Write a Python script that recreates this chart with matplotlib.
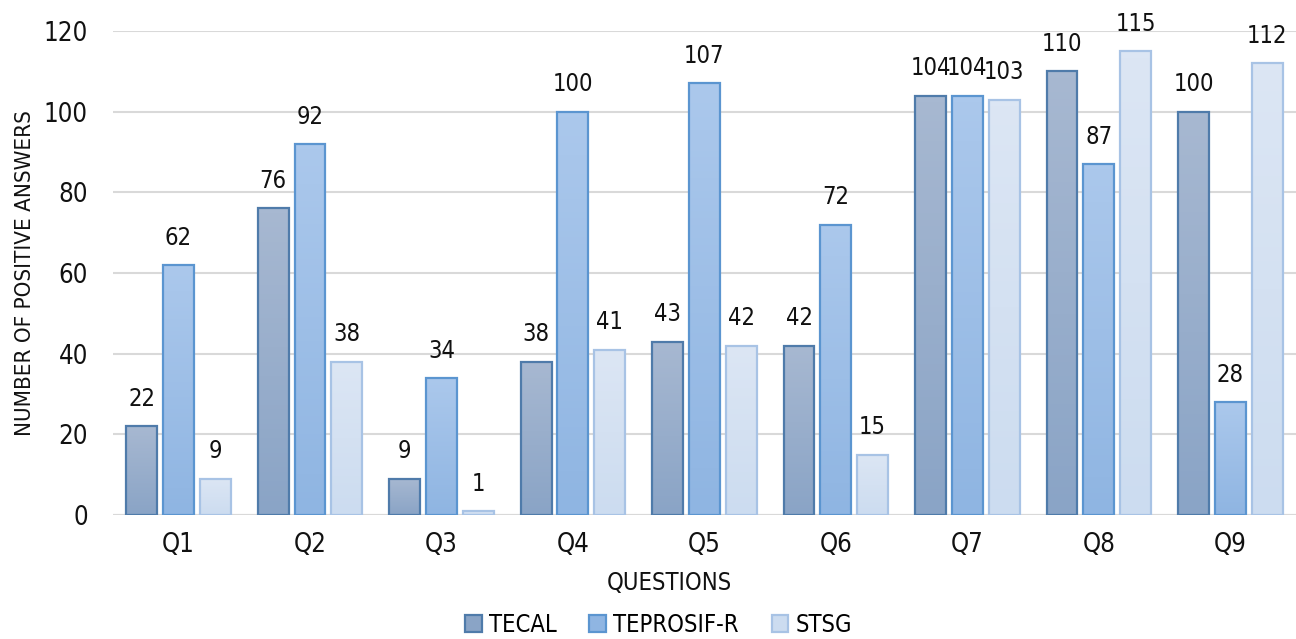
import numpy as np
import matplotlib.pyplot as plt
from matplotlib.patches import Patch
from matplotlib.colors import LinearSegmentedColormap

plt.rcParams['font.family'] = ['DejaVu Sans']
plt.rcParams['font.stretch'] = 'condensed'

questions = ['Q1', 'Q2', 'Q3', 'Q4', 'Q5', 'Q6', 'Q7', 'Q8', 'Q9']
tecal = [22, 76, 9, 38, 43, 42, 104, 110, 100]
teprosif = [62, 92, 34, 100, 107, 72, 104, 87, 28]
stsg = [9, 38, 1, 41, 42, 15, 103, 115, 112]

series = [
    ('TECAL', tecal, '#A7B8D1', '#8AA4C6', '#4F7BAA'),
    ('TEPROSIF-R', teprosif, '#ABC8EC', '#8FB5E2', '#5B95D0'),
    ('STSG', stsg, '#DCE6F4', '#CCDCF0', '#A8C3E5'),
]

fig = plt.figure(figsize=(12.96, 6.39), dpi=100)
ax = fig.add_axes([0.087, 0.194, 0.913, 0.7575])

x = np.arange(len(questions))
width = 0.235
pitch = 0.28

for i, (name, vals, top_c, bot_c, edge_c) in enumerate(series):
    # vertical gradient fill, clipped to each bar
    cmap = LinearSegmentedColormap.from_list(name, [bot_c, top_c])
    grad = np.linspace(0, 1, 64).reshape(-1, 1)
    bars = ax.bar(x + (i - 1) * pitch, vals, width, facecolor='none',
                  edgecolor=edge_c, linewidth=1.6, zorder=3)
    for b, v in zip(bars, vals):
        x0, y0 = b.get_x(), b.get_y()
        im = ax.imshow(grad, cmap=cmap, origin='lower', aspect='auto',
                       extent=(x0, x0 + b.get_width(), y0, y0 + b.get_height()),
                       zorder=2)
        im.set_clip_path(b)
        ax.annotate(str(v), (b.get_x() + b.get_width() / 2, v),
                    xytext=(0, 11), textcoords='offset points',
                    ha='center', va='bottom', fontsize=17, color='#111111')

ax.set_xlim(-0.5, len(questions) - 0.5)
ax.set_ylim(0, 120)
ax.set_yticks(range(0, 121, 20))
ax.set_xticks(x)
ax.set_xticklabels(questions)
ax.yaxis.grid(True, color='#D9D9D9', linewidth=1.5, zorder=0)
ax.set_axisbelow(True)
for s in ax.spines.values():
    s.set_visible(False)
ax.axhline(0, color='#D9D9D9', linewidth=1.5, zorder=1)
ax.tick_params(axis='both', length=0, labelsize=18.5, colors='#111111')
ax.tick_params(axis='y', pad=18)
ax.tick_params(axis='x', pad=12)

ax.set_xlabel('QUESTIONS', fontsize=17, color='#111111')
ax.xaxis.set_label_coords(0.47, -0.115)
ax.set_ylabel('NUMBER OF POSITIVE ANSWERS', fontsize=16, color='#111111')
ax.yaxis.set_label_coords(-0.066, 0.5)

handles = [Patch(facecolor=s[3], edgecolor=s[4], linewidth=1.6, label=s[0]) for s in series]
fig.legend(handles=handles, loc='lower center', bbox_to_anchor=(0.508, -0.03), ncol=3,
           frameon=False, fontsize=17, handlelength=0.7, handleheight=0.7,
           handletextpad=0.3, columnspacing=1.4)

fig.savefig('out.png', dpi=100)
